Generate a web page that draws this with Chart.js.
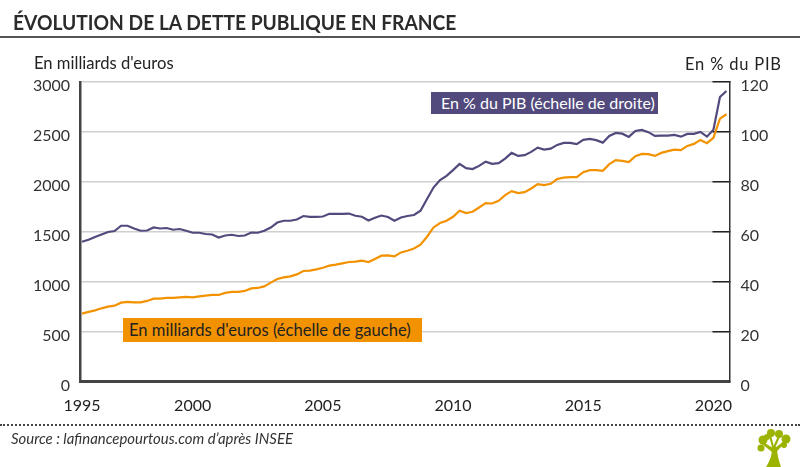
<!DOCTYPE html>
<html lang="fr">
<head>
<meta charset="utf-8">
<title>Évolution de la dette publique en France</title>
<script src="https://cdn.jsdelivr.net/npm/chart.js@4/dist/chart.umd.min.js"></script>
<style>
    html, body { margin: 0; padding: 0; background: #fff; }
    body { width: 800px; height: 467px; position: relative; overflow: hidden; font-family: Lato, sans-serif; color: #222; }
    canvas { position: absolute; left: 0; top: 0; }
    .txt { position: absolute; white-space: nowrap; }
    #title { left: 13px; top: 8px; font-size: 21px; font-weight: 700; line-height: 28px; color: #2b2b2b; transform: scaleX(0.915); transform-origin: left center; }
    #rule { position: absolute; left: 0; top: 36px; width: 800px; height: 2px; background: #555; }
    #left-title { left: 34px; top: 53px; font-size: 16.6px; line-height: 20px; }
    #right-title { left: 685px; top: 54px; font-size: 16.5px; line-height: 20px; letter-spacing: 0.8px; }
    #tag-pct { left: 431px; top: 92px; width: 227px; height: 22px; line-height: 22px; background: #524a7c; color: #fff; font-size: 16px; text-indent: 10px; }
    #tag-eur { left: 123px; top: 318px; width: 299px; height: 24px; line-height: 24px; background: #f39200; color: #222; font-size: 16.6px; text-indent: 6px; }
    #dots { position: absolute; left: 0; top: 424px; width: 800px; border-top: 2px dotted #444; }
    #source { left: 11px; top: 429px; font-size: 14.9px; font-style: italic; line-height: 18px; color: #333; }
    #logo { position: absolute; left: 754px; top: 428px; }
</style>
</head>
<body>
<canvas id="debtChart" width="800" height="467"></canvas>
<div id="title" class="txt">ÉVOLUTION DE LA DETTE PUBLIQUE EN FRANCE</div>
<div id="rule"></div>
<div id="left-title" class="txt">En milliards d'euros</div>
<div id="right-title" class="txt">En % du PIB</div>
<div id="tag-pct" class="txt">En % du PIB (échelle de droite)</div>
<div id="tag-eur" class="txt">En milliards d'euros (échelle de gauche)</div>
<div id="dots"></div>
<div id="source" class="txt">Source : lafinancepourtous.com d’après INSEE</div>
<svg id="logo" width="40" height="39" viewBox="0 0 40 39">
    <g fill="#9cb300">
        <path d="M12 39 C17 31 18 26 18 19 L23 19 C23 27 25 33 27 39 Z"/>
        <path d="M9 14 L19 20 L21 20 L30 13 L31 15 L22 24 L18 24 L8 16 Z"/>
        <path d="M17 7 L20 19 L18 19 L15 8 Z"/>
        <path d="M24 8 L26 9 L21 20 L19 19 Z"/>
        <circle cx="9" cy="12" r="4.5"/>
        <circle cx="7" cy="20" r="3.5"/>
        <circle cx="13" cy="9" r="3"/>
        <circle cx="17" cy="5" r="4"/>
        <circle cx="25" cy="6" r="4"/>
        <circle cx="32" cy="11" r="4.5"/>
        <circle cx="30" cy="17" r="3"/>
    </g>
</svg>
<script>
// trimestres, du 4e trimestre 1995 au 3e trimestre 2020
const debtEuros = [
    680, 697, 713, 733, 750, 760, 790, 797, 793, 793,
    807, 830, 830, 837, 837, 843, 847, 843, 853, 860,
    867, 867, 887, 897, 897, 907, 933, 937, 953, 990,
    1027, 1043, 1053, 1073, 1107, 1110, 1123, 1140, 1160, 1170,
    1183, 1197, 1200, 1210, 1197, 1227, 1260, 1263, 1253, 1293,
    1310, 1333, 1370, 1450, 1543, 1587, 1610, 1650, 1710, 1687,
    1700, 1743, 1787, 1783, 1810, 1867, 1907, 1887, 1897, 1933,
    1977, 1967, 1980, 2027, 2043, 2047, 2047, 2097, 2117, 2117,
    2110, 2177, 2217, 2210, 2197, 2257, 2280, 2277, 2260, 2290,
    2307, 2323, 2317, 2360, 2380, 2420, 2387, 2440, 2633, 2677
];
const debtPct = [
    56.0, 56.8, 57.9, 58.9, 59.9, 60.3, 62.4, 62.4, 61.3, 60.4,
    60.5, 61.7, 61.3, 61.5, 60.8, 61.1, 60.4, 59.6, 59.6, 59.1,
    58.9, 57.7, 58.5, 58.8, 58.3, 58.5, 59.7, 59.6, 60.4, 61.7,
    63.7, 64.4, 64.4, 64.9, 66.3, 66.0, 66.0, 66.1, 67.2, 67.2,
    67.2, 67.3, 66.4, 66.0, 64.5, 65.6, 66.5, 65.9, 64.4, 65.7,
    66.3, 66.7, 68.4, 73.1, 77.7, 80.7, 82.4, 84.7, 87.2, 85.5,
    85.1, 86.4, 88.1, 87.2, 87.5, 89.3, 91.6, 90.4, 90.7, 92.0,
    93.7, 92.9, 93.3, 94.8, 95.6, 95.6, 95.1, 96.8, 97.2, 96.7,
    95.7, 98.4, 99.6, 99.3, 98.0, 100.4, 100.8, 99.9, 98.4, 98.5,
    98.5, 98.8, 98.1, 99.2, 99.2, 100.0, 98.1, 100.9, 114.0, 116.4
];
const startYear = 1995.75;
const yearTicks = [1995.75, 2000, 2005, 2010, 2015, 2020];
const leftTicks = [0, 500, 1000, 1500, 2000, 2500, 3000];
const rightTicks = [0, 20, 40, 60, 80, 100, 120];

const toPoints = values => values.map((v, i) => ({ x: startYear + i / 4, y: v }));
// ligne vide au-dessus : les chiffres sont un peu sous leur graduation
const lowered = value => ['', String(value)];
const tickFont = { family: 'Lato, sans-serif', size: 16, lineHeight: '8px' };

new Chart(document.getElementById('debtChart'), {
    type: 'line',
    data: {
        datasets: [
            {
                data: toPoints(debtEuros),
                yAxisID: 'y',
                borderColor: '#f39200',
                borderWidth: 2.2,
                pointRadius: 0,
                tension: 0
            },
            {
                data: toPoints(debtPct),
                yAxisID: 'y1',
                borderColor: '#524a7c',
                borderWidth: 2.2,
                pointRadius: 0,
                tension: 0
            }
        ]
    },
    options: {
        responsive: false,
        animation: false,
        layout: { padding: { top: 82 } },
        plugins: {
            legend: { display: false },
            tooltip: { enabled: false }
        },
        scales: {
            x: {
                type: 'linear',
                min: 1995.673,
                max: 2020.617,
                afterBuildTicks: scale => {
                    scale.ticks = yearTicks.map(value => ({ value }));
                },
                afterFit: scale => { scale.height = 85.5; },
                grid: { display: false },
                border: { color: '#444', width: 3 },
                ticks: {
                    autoSkip: false,
                    maxRotation: 0,
                    padding: 7,
                    color: '#222',
                    font: { family: 'Lato, sans-serif', size: 16 },
                    callback: value => String(Math.floor(value))
                }
            },
            y: {
                min: 0,
                max: 3000,
                afterBuildTicks: scale => {
                    scale.ticks = leftTicks.map(value => ({ value }));
                },
                afterFit: scale => { scale.width = 80; },
                grid: { color: '#cfcfcf', lineWidth: 1.5, drawTicks: false },
                border: { color: '#444', width: 2.5 },
                ticks: { padding: 10, color: '#333', font: tickFont, callback: lowered }
            },
            y1: {
                position: 'right',
                min: 0,
                max: 120,
                afterBuildTicks: scale => {
                    scale.ticks = rightTicks.map(value => ({ value }));
                },
                afterFit: scale => { scale.width = 70.5; },
                grid: { drawOnChartArea: false, color: '#222', lineWidth: 1.5, tickLength: -17 },
                border: { color: '#333', width: 1.5 },
                ticks: { padding: 28, color: '#333', font: tickFont, callback: lowered }
            }
        }
    }
});
</script>
</body>
</html>
